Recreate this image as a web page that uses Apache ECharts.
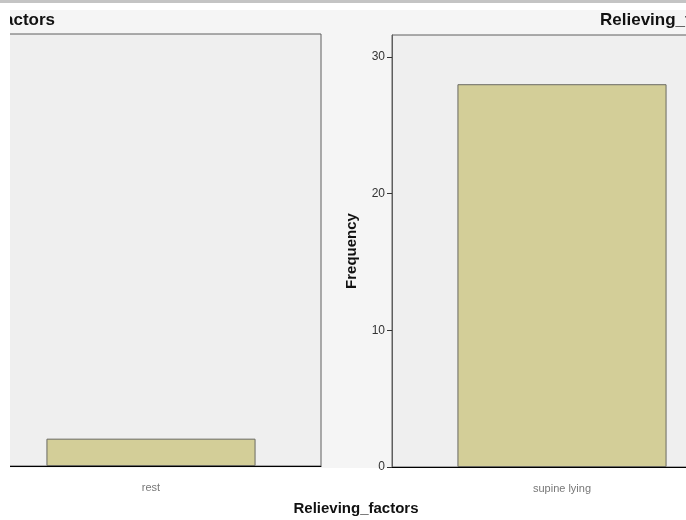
<!DOCTYPE html>
<html>
<head>
<meta charset="utf-8">
<script src="https://cdn.jsdelivr.net/npm/echarts@6/dist/echarts.min.js"></script>
<style>
  html, body { margin: 0; padding: 0; background: #ffffff; }
  #main { width: 686px; height: 520px; }
</style>
</head>
<body>
<div id="main"></div>
<script>
// data
const leftCategories = ['rest'];
const rightCategories = ['supine lying'];
const leftFrequency = [2];
const rightFrequency = [28];
const yTicks = [0, 10, 20, 30];
const chartTitle = 'Relieving_factors';
const xName = 'Relieving_factors';
const yName = 'Frequency';

const font = 'Liberation Sans, Arial, sans-serif';
const barStyle = {
  color: '#d3ce98',
  borderColor: '#6a6a62',
  borderWidth: 1
};

const myChart = echarts.init(document.getElementById('main'), null, { renderer: 'canvas' });

const option = {
  backgroundColor: '#ffffff',
  animation: false,
  textStyle: { fontFamily: font },
  title: [
    {
      text: chartTitle,
      right: 631, top: 12, padding: 0,
      textStyle: { fontSize: 17, fontWeight: 'bold', color: '#111', fontFamily: font }
    },
    {
      text: chartTitle,
      left: 600, top: 12, padding: 0,
      textStyle: { fontSize: 17, fontWeight: 'bold', color: '#111', fontFamily: font }
    },
    {
      text: xName,
      left: 356, top: 501, padding: 0, textAlign: 'center',
      textStyle: { fontSize: 15, fontWeight: 'bold', color: '#111', fontFamily: font }
    }
  ],
  graphic: [
    // grey chart background
    { type: 'rect', z: -100, silent: true, shape: { x: 10, y: 10, width: 676, height: 458 }, style: { fill: '#f5f5f5' } },
    // white frame at top / left
    { type: 'rect', z: 100, silent: true, shape: { x: 0, y: 3, width: 686, height: 7 }, style: { fill: '#ffffff' } },
    { type: 'rect', z: 100, silent: true, shape: { x: 0, y: 0, width: 686, height: 3 }, style: { fill: '#c4c4c4' } },
    { type: 'rect', z: 100, silent: true, shape: { x: 0, y: 3, width: 10, height: 517 }, style: { fill: '#ffffff' } }
  ],
  grid: [
    {
      left: -19, top: 34, width: 340, height: 432, outerBoundsMode: 'none',
      show: true, backgroundColor: '#efefef', borderColor: '#5e5e5e', borderWidth: 1
    },
    {
      left: 392, top: 35, width: 340, height: 432, outerBoundsMode: 'none',
      show: true, backgroundColor: '#efefef', borderColor: '#5e5e5e', borderWidth: 1
    }
  ],
  xAxis: [
    {
      type: 'category', gridIndex: 0, data: leftCategories,
      axisLine: { lineStyle: { color: '#000', width: 1 } },
      axisTick: { alignWithLabel: true, length: 7, lineStyle: { color: '#000' } },
      axisLabel: { color: '#777', fontSize: 11, margin: 16 }
    },
    {
      type: 'category', gridIndex: 1, data: rightCategories,
      axisLine: { lineStyle: { color: '#000', width: 1 } },
      axisTick: { alignWithLabel: true, length: 7, lineStyle: { color: '#000' } },
      axisLabel: { color: '#777', fontSize: 11, margin: 16 }
    }
  ],
  yAxis: [
    {
      type: 'value', gridIndex: 0, min: 0, max: 31.6, show: false,
      splitLine: { show: false }
    },
    {
      type: 'value', gridIndex: 1, min: 0, max: 31.6, interval: 10,
      name: yName, nameLocation: 'middle', nameGap: 33, nameRotate: 90,
      nameTextStyle: { fontSize: 15, fontWeight: 'bold', color: '#111', fontFamily: font },
      axisLine: { show: true, lineStyle: { color: '#5e5e5e' } },
      axisTick: { show: true, length: 5, customValues: yTicks, lineStyle: { color: '#333' } },
      axisLabel: { color: '#333', fontSize: 12, margin: 7, customValues: yTicks },
      splitLine: { show: false }
    }
  ],
  series: [
    {
      type: 'bar', xAxisIndex: 0, yAxisIndex: 0,
      data: leftFrequency, barWidth: '61.5%', itemStyle: barStyle
    },
    {
      type: 'bar', xAxisIndex: 1, yAxisIndex: 1,
      data: rightFrequency, barWidth: '61.5%', itemStyle: barStyle
    }
  ]
};

myChart.setOption(option);
</script>
</body>
</html>
